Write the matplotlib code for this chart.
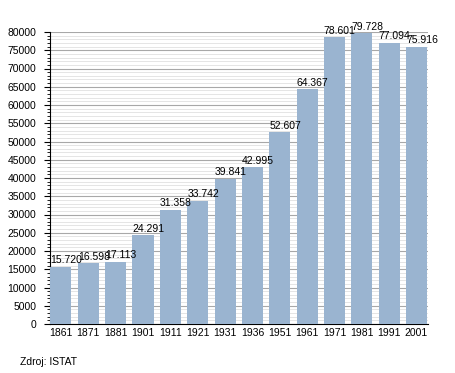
import matplotlib
matplotlib.use("Agg")
import matplotlib.pyplot as plt
from matplotlib.ticker import MultipleLocator

years = ["1861", "1871", "1881", "1901", "1911", "1921", "1931", "1936",
         "1951", "1961", "1971", "1981", "1991", "2001"]
population = [15720, 16598, 17113, 24291, 31358, 33742, 39841, 42995,
              52607, 64367, 78601, 79728, 77094, 75916]
labels = ["15.720", "16.598", "17.113", "24.291", "31.358", "33.742", "39.841",
          "42.995", "52.607", "64.367", "78.601", "79.728", "77.094", "75.916"]

plt.rcParams['font.family'] = ['Liberation Sans', 'DejaVu Sans']

fig = plt.figure(figsize=(4.55, 3.73), dpi=100)
ax = fig.add_axes([50/455, 1-324/373, 378/455, 292/373])

x = list(range(len(years)))
bars = ax.bar(x, population, width=0.77, color="#9ab4d0", zorder=3)
for xi, v, lab in zip(x, population, labels):
    ax.text(xi - 0.385, v + 400, lab, ha="left", va="bottom", fontsize=7.5, zorder=4)

ax.set_xlim(-0.4, 13.42)
ax.set_ylim(0, 80000)
ax.yaxis.set_major_locator(MultipleLocator(5000))
ax.yaxis.set_minor_locator(MultipleLocator(1000))
ax.grid(axis="y", which="major", color="#a8a8a8", linewidth=0.8, zorder=0)
ax.grid(axis="y", which="minor", color="#e0e0e0", linewidth=0.6, zorder=0)
ax.set_xticks(x)
ax.set_xticklabels(years)
ax.tick_params(axis="x", length=0, labelsize=7.5, pad=3)
ax.tick_params(axis="y", which="major", length=4, direction="out", labelsize=7.5, pad=6)
ax.tick_params(axis="y", which="minor", length=2, direction="out")
for s in ["top", "right"]:
    ax.spines[s].set_visible(False)
ax.spines["left"].set_linewidth(0.8)
ax.spines["bottom"].set_linewidth(0.8)

fig.text(20/455, 1-362/373, "Zdroj: ISTAT", fontsize=7.5, va="center", ha="left")

fig.savefig("out.png", dpi=100)
